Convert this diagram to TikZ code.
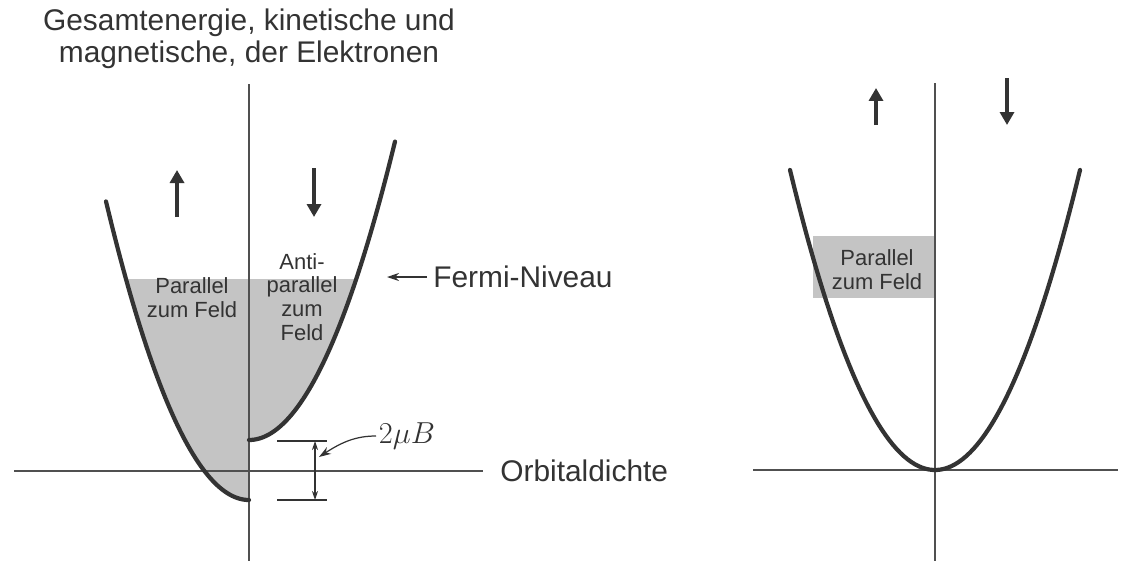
\documentclass[tikz,border=0pt]{standalone}
\usepackage{fontspec}
\setmainfont{Liberation Sans}
\usepackage{tikz}
\usetikzlibrary{arrows.meta}
\definecolor{fmInk}{HTML}{333333}
\definecolor{fmAxis}{HTML}{505050}
\definecolor{fmFill}{HTML}{C4C4C4}
\tikzset{
  axisline/.style={draw=fmAxis,line width=1.1pt},
  curve/.style={draw=fmInk,line width=2.4pt,line cap=round},
  fermifill/.style={fill=fmFill},
  spin/.style={-{Triangle[length=2.6mm,width=2.8mm]},line width=2.8pt,draw=fmInk},
  thinarrow/.style={-{Stealth[length=2.4mm,width=1.6mm]},line width=0.9pt,draw=fmInk},
  dimarrow/.style={{Stealth[length=1.8mm,width=1.2mm]}-{Stealth[length=1.8mm,width=1.2mm]},line width=0.6pt,draw=fmInk},
  tickline/.style={draw=fmInk,line width=1.1pt},
  biglabel/.style={font=\fontsize{17}{18.2}\selectfont,text=fmInk,align=center},
  smalllabel/.style={font=\fontsize{12.5}{13.6}\selectfont,text=fmInk,align=center,inner sep=0pt}
}
\begin{document}
\begin{tikzpicture}[x=0.02cm,y=-0.02cm]
  \useasboundingbox (0,0) rectangle (1141,561);

  % left: split bands
  \fill[fermifill] plot[domain=126:249,samples=40] (\x,{500-1.46*((\x-249)/10)^2})
    -- (249,440) -- plot[domain=249:356.2,samples=40] (\x,{440-1.4*((\x-249)/10)^2}) -- cycle;
  \draw[axisline] (249,84) -- (249,561);
  \node[biglabel,anchor=west,inner xsep=9.7pt,inner ysep=0pt] (orbit) at (483,471) {Orbitaldichte};
  \draw[axisline] (14,471) -- (orbit.west);
  \draw[curve] plot[domain=106:249,samples=60] (\x,{500-1.46*((\x-249)/10)^2});
  \draw[curve] plot[domain=249:395,samples=60] (\x,{440-1.4*((\x-249)/10)^2});

  \node[biglabel] (title) at (249,39) {Gesamtenergie, kinetische und\\magnetische, der Elektronen};

  \coordinate (upA) at (177,217);
  \coordinate (upB) at (177,170);
  \coordinate (downA) at (314,168);
  \coordinate (downB) at (314,217);
  \draw[spin] (upA) -- (upB);
  \draw[spin] (downA) -- (downB);

  \node[smalllabel] (parL) at (192,297.5) {Parallel\\zum Feld};
  \node[smalllabel] (antiL) at (302,297) {Anti-\\parallel\\zum\\Feld};

  \node[biglabel,anchor=west,inner xsep=3.4pt,inner ysep=0pt] (fermi) at (427,277) {Fermi-Niveau};
  \coordinate (fermitip) at (387,277);
  \draw[thinarrow] (fermi.west) -- (fermitip);

  % 2 mu B gap
  \coordinate (tickTa) at (277,441);
  \coordinate (tickTb) at (327,441);
  \coordinate (tickBa) at (277,500);
  \coordinate (tickBb) at (327,500);
  \draw[tickline] (tickTa) -- (tickTb);
  \draw[tickline] (tickBa) -- (tickBb);
  \coordinate (dimtop) at (315,441);
  \coordinate (dimbot) at (315,500);
  \draw[dimarrow] (dimtop) -- (dimbot);
  \node[biglabel,anchor=west,inner sep=1.5pt] (mu) at (376,436) {$2\mu B$};
  \coordinate (dimmid) at (319,457);
  \draw[thinarrow,line width=0.7pt] (mu.west) .. controls (356,436) and (342,442) .. (dimmid);

  % right: no field
  \node[fermifill,minimum width=2.44cm,minimum height=1.24cm,inner sep=0pt] (boxR) at (874,267) {};
  \node[smalllabel] (parR) at (877,270) {Parallel\\zum Feld};
  \draw[axisline] (935,83) -- (935,561);
  \draw[axisline] (753,470) -- (1118,470);
  \draw[curve] plot[domain=790:1080,samples=80] (\x,{470-1.427*((\x-935)/10)^2});

  \coordinate (upRa) at (876,125);
  \coordinate (upRb) at (876,88);
  \coordinate (downRa) at (1007,78);
  \coordinate (downRb) at (1007,125);
  \draw[spin] (upRa) -- (upRb);
  \draw[spin] (downRa) -- (downRb);
\end{tikzpicture}
\end{document}
